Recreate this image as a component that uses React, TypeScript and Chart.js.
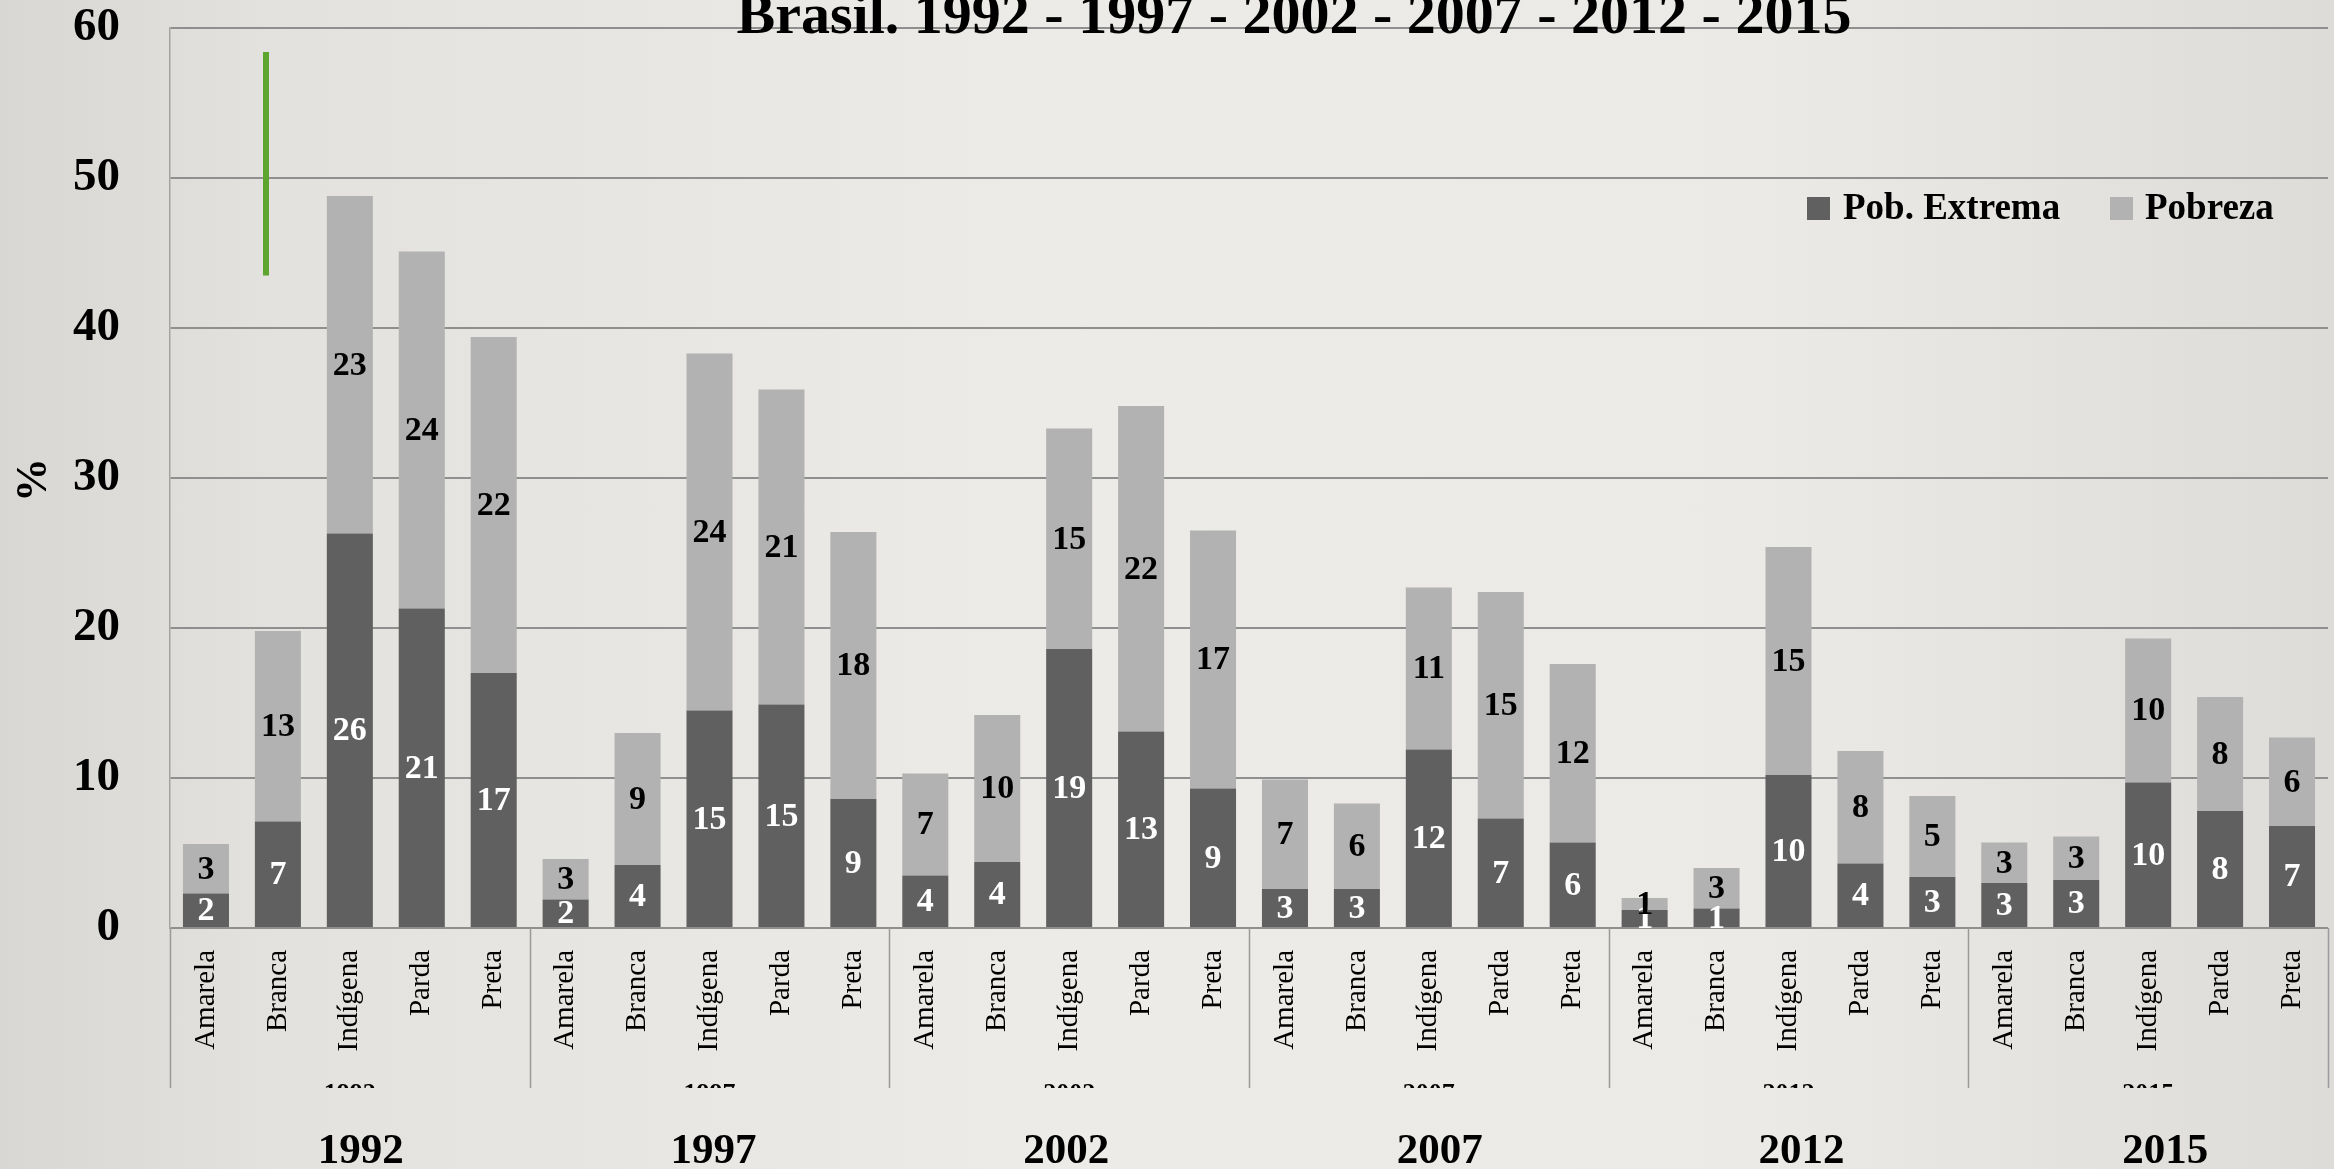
import React, { useEffect, useRef } from 'react';
import { Chart, registerables } from 'chart.js';

Chart.register(...registerables);

const chartTitle = 'Brasil. 1992 - 1997 - 2002 - 2007 - 2012 - 2015';
const years = ['1992', '1997', '2002', '2007', '2012', '2015'];
const yearLabelOffsets = [11, 4, -3, 11, 13, 17];
const groups = ['Amarela', 'Branca', 'Indígena', 'Parda', 'Preta'];
const categories = years.flatMap(() => groups);
const seriesNames = ['Pob. Extrema', 'Pobreza'];
const extremeValues = [
  2.3, 7.1, 26.3, 21.3, 17.0,
  1.9, 4.2, 14.5, 14.9, 8.6,
  3.5, 4.4, 18.6, 13.1, 9.3,
  2.6, 2.6, 11.9, 7.3, 5.7,
  1.2, 1.3, 10.2, 4.3, 3.4,
  3.0, 3.2, 9.7, 7.8, 6.8,
];
const povertyValues = [
  3.3, 12.7, 22.5, 23.8, 22.4,
  2.7, 8.8, 23.8, 21.0, 17.8,
  6.8, 9.8, 14.7, 21.7, 17.2,
  7.3, 5.7, 10.8, 15.1, 11.9,
  0.8, 2.7, 15.2, 7.5, 5.4,
  2.7, 2.9, 9.6, 7.6, 5.9,
];
const yTicks = [0, 10, 20, 30, 40, 50, 60];
const yAxisTitle = '%';

const DARK = '#606060';
const LIGHT = '#b2b2b2';
const FONT = "'Liberation Serif', 'Times New Roman', serif";

const decorPlugin = {
  id: 'decor',
  afterDatasetsDraw(chart: any) {
    const ctx = chart.ctx;
    chart.data.datasets.forEach((ds: any, i: number) => {
      const meta = chart.getDatasetMeta(i);
      meta.data.forEach((el: any, j: number) => {
        const v = ds.data[j];
        const cy = (el.y + el.base) / 2;
        ctx.save();
        ctx.font = `bold 34px ${FONT}`;
        ctx.fillStyle = i === 0 ? '#ffffff' : '#000000';
        ctx.textAlign = 'center';
        ctx.textBaseline = 'middle';
        ctx.fillText(String(Math.round(v)), el.x, cy + 1);
        ctx.restore();
      });
    });
  },
  afterDraw(chart: any) {
    const ctx = chart.ctx;
    const xs = chart.scales.x;
    const ys = chart.scales.y;
    const area = chart.chartArea;
    const half = (xs.getPixelForValue(1) - xs.getPixelForValue(0)) / 2;

    // title (partly cut at the top)
    ctx.save();
    ctx.font = `bold 58px ${FONT}`;
    ctx.fillStyle = '#000';
    ctx.textAlign = 'center';
    ctx.textBaseline = 'alphabetic';
    ctx.fillText(chartTitle, 1294, 33);
    ctx.restore();

    // y axis title
    ctx.save();
    ctx.translate(35, 480);
    ctx.rotate(-Math.PI / 2);
    ctx.font = `bold 44px ${FONT}`;
    ctx.fillStyle = '#000';
    ctx.textAlign = 'center';
    ctx.textBaseline = 'middle';
    ctx.fillText(yAxisTitle, 0, 0);
    ctx.restore();

    // legend
    const legendItems = [
      { text: seriesNames[0], color: DARK, box: 1807, tx: 1843 },
      { text: seriesNames[1], color: LIGHT, box: 2110, tx: 2145 },
    ];
    legendItems.forEach((it) => {
      ctx.save();
      ctx.fillStyle = it.color;
      ctx.fillRect(it.box, 197, 23, 23);
      ctx.font = `bold 37px ${FONT}`;
      ctx.fillStyle = '#000';
      ctx.textAlign = 'left';
      ctx.textBaseline = 'alphabetic';
      ctx.fillText(it.text, it.tx, 219);
      ctx.restore();
    });

    // group separators and year labels
    const sepBottom = 1088;
    ctx.save();
    ctx.strokeStyle = '#9a9a9a';
    ctx.lineWidth = 1.5;
    for (let g = 0; g <= years.length; g++) {
      const idx = g * groups.length;
      const x = idx < categories.length
        ? xs.getPixelForValue(idx) - half
        : xs.getPixelForValue(categories.length - 1) + half;
      ctx.beginPath();
      ctx.moveTo(Math.round(x) + 0.5, area.bottom);
      ctx.lineTo(Math.round(x) + 0.5, sepBottom);
      ctx.stroke();
    }
    ctx.restore();

    years.forEach((yr, g) => {
      const c0 = xs.getPixelForValue(g * groups.length);
      const c1 = xs.getPixelForValue(g * groups.length + groups.length - 1);
      const cx = (c0 + c1) / 2;
      // clipped small level label
      ctx.save();
      ctx.beginPath();
      ctx.rect(0, 0, chart.width, sepBottom);
      ctx.clip();
      ctx.font = `bold 26px ${FONT}`;
      ctx.fillStyle = '#000';
      ctx.textAlign = 'center';
      ctx.textBaseline = 'alphabetic';
      ctx.fillText(yr, cx, 1101);
      ctx.restore();
      // big year label
      ctx.save();
      ctx.font = `bold 43px ${FONT}`;
      ctx.fillStyle = '#000';
      ctx.textAlign = 'center';
      ctx.textBaseline = 'alphabetic';
      ctx.fillText(yr, cx + yearLabelOffsets[g], 1163);
      ctx.restore();
    });

    // green accent line
    ctx.save();
    ctx.strokeStyle = '#5ea52f';
    ctx.lineWidth = 6;
    ctx.beginPath();
    const gx = area.left + 96;
    ctx.moveTo(gx, ys.getPixelForValue(58.4));
    ctx.lineTo(gx, ys.getPixelForValue(43.5));
    ctx.stroke();
    ctx.restore();
  },
};

const zeroPad = (scale: any) => {
  scale.paddingTop = 0;
  scale.paddingBottom = 0;
  scale.paddingLeft = 0;
  scale.paddingRight = 0;
};

export default function App() {
  const ref = useRef<HTMLCanvasElement | null>(null);

  useEffect(() => {
    document.body.style.margin = '0';
    const canvas = ref.current;
    if (!canvas) return;
    const chart = new Chart(canvas, {
      type: 'bar',
      data: {
        labels: categories,
        datasets: [
          {
            label: seriesNames[0],
            data: extremeValues,
            backgroundColor: DARK,
            borderWidth: 0,
            categoryPercentage: 1,
            barPercentage: 0.64,
          },
          {
            label: seriesNames[1],
            data: povertyValues,
            backgroundColor: LIGHT,
            borderWidth: 0,
            categoryPercentage: 1,
            barPercentage: 0.64,
          },
        ],
      },
      options: {
        responsive: false,
        animation: false,
        devicePixelRatio: 1,
        layout: { padding: { top: 28, right: 6, left: 0, bottom: 0 } },
        plugins: {
          legend: { display: false },
          tooltip: { enabled: false },
          title: { display: false },
        },
        scales: {
          x: {
            type: 'category',
            stacked: true,
            offset: true,
            grid: { display: false, drawTicks: false },
            border: { display: false },
            ticks: {
              autoSkip: false,
              minRotation: 90,
              maxRotation: 90,
              padding: 22,
              color: '#000',
              font: { family: FONT, size: 29, weight: 'normal' },
            },
            afterFit: (scale: any) => {
              scale.height = 1169 - 928;
              zeroPad(scale);
            },
          },
          y: {
            stacked: true,
            min: 0,
            max: 60,
            afterBuildTicks: (scale: any) => {
              scale.ticks = yTicks.map((v) => ({ value: v }));
            },
            grid: { color: '#8f8f8f', lineWidth: 2, drawTicks: false },
            border: { display: true, color: '#a3a3a3', width: 1.5 },
            ticks: {
              padding: 50,
              color: '#000',
              font: { family: FONT, size: 47, weight: 'bold' },
            },
            afterFit: (scale: any) => {
              scale.width = 170;
              zeroPad(scale);
            },
          },
        },
      },
      plugins: [decorPlugin],
    } as any);
    return () => chart.destroy();
  }, []);

  return (
    <div
      style={{
        position: 'absolute',
        left: 0,
        top: 0,
        width: 2334,
        height: 1169,
        overflow: 'hidden',
        background:
          'linear-gradient(to right, #d8d7d3 0%, #e3e2de 12%, #ecebe7 45%, #ebeae6 75%, #dddcd8 100%)',
      }}
    >
      <canvas ref={ref} width={2334} height={1169} style={{ display: 'block' }} />
    </div>
  );
}
